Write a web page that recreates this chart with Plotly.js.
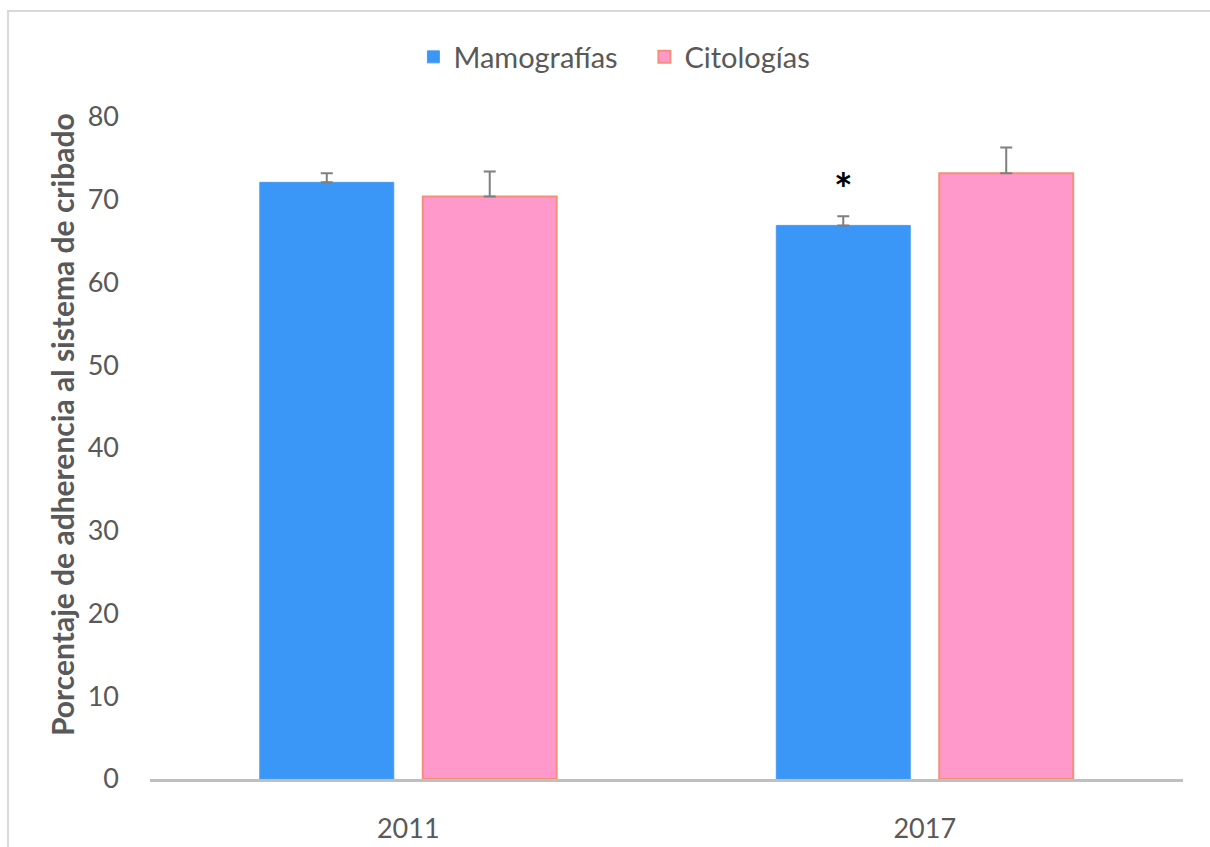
<!DOCTYPE html>
<html>
<head>
<meta charset="utf-8">
<script src="https://cdn.plot.ly/plotly-3.0.1.min.js"></script>
<style>
html,body{margin:0;padding:0;background:#fff;}
#chart{width:1210px;height:847px;}
</style>
</head>
<body>
<div id="chart"></div>
<script>
const categories = ["2011", "2017"];
const mamografias = [72.1, 66.9];
const mamografiasErr = [1.1, 1.1];
const citologias = [70.4, 73.2];
const citologiasErr = [3.0, 3.1];
const seriesNames = ["Mamografías", "Citologías"];
const yTicks = [0, 10, 20, 30, 40, 50, 60, 70, 80];
const significance = [{category: "2017", series: 0, text: "*"}];

const fontFam = "Lato, 'Open Sans', sans-serif";

const traces = [
  {
    type: "bar", name: seriesNames[0], x: categories, y: mamografias,
    marker: {color: "#3A97F7", line: {color: "#4A9BEA", width: 1}},
    error_y: {type: "data", array: mamografiasErr, arrayminus: [0, 0], symmetric: false,
              color: "#7F7F7F", thickness: 2, width: 6}
  },
  {
    type: "bar", name: seriesNames[1], x: categories, y: citologias,
    marker: {color: "#FF99CC", line: {color: "#F4907A", width: 2}},
    error_y: {type: "data", array: citologiasErr, arrayminus: [0, 0], symmetric: false,
              color: "#7F7F7F", thickness: 2, width: 6}
  }
];

const annotations = significance.map(s => {
  const i = categories.indexOf(s.category);
  const vals = s.series === 0 ? mamografias : citologias;
  const errs = s.series === 0 ? mamografiasErr : citologiasErr;
  return {
    x: i, xref: "x", y: vals[i] + errs[i], yref: "y", yanchor: "bottom", yshift: 0,
    text: "<b>" + s.text + "</b>", showarrow: false,
    xshift: -81, font: {family: fontFam, size: 44, color: "#000"}
  };
});
annotations.push({
  text: "<b>Porcentaje de adherencia al sistema de cribado</b>", textangle: -90,
  xref: "paper", yref: "paper", x: (62 - 150) / 1033, y: (779 - 425) / 662,
  xanchor: "center", yanchor: "middle", showarrow: false,
  font: {family: fontFam, size: 30, color: "#595959"}
});

const layout = {
  width: 1210, height: 847,
  margin: {l: 150, r: 27, t: 117, b: 68},
  paper_bgcolor: "#fff", plot_bgcolor: "#fff",
  barmode: "group", bargap: 0.369, bargroupgap: 0.178,
  showlegend: true,
  legend: {orientation: "h", x: 0.4786, xref: "paper", xanchor: "center", y: 1.0906, yanchor: "middle",
           bgcolor: "rgba(0,0,0,0)", entrywidth: 186, entrywidthmode: "pixels",
           font: {family: fontFam, size: 29, color: "#595959"}, itemwidth: 30, traceorder: "normal"},
  xaxis: {
    type: "category", range: [-0.5, 1.5], autorange: false,
    showgrid: false, showline: true, linecolor: "#BFBFBF", linewidth: 3,
    ticks: "", ticklabelstandoff: 24, zeroline: false,
    tickfont: {family: fontFam, size: 27, color: "#595959"}
  },
  yaxis: {
    range: [0, 80], autorange: false, tickvals: yTicks, ticktext: yTicks.map(String), showgrid: false,
    showline: false, zeroline: false, ticks: "", ticklabelstandoff: 30,
    tickfont: {family: fontFam, size: 27, color: "#595959"}
  },
  annotations: annotations,
  shapes: [{type: "rect", xref: "paper", yref: "paper",
            x0: -142/1033, x1: 1.1, y0: -0.2, y1: 1 + 106/662,
            line: {color: "#D9D9D9", width: 2}, fillcolor: "rgba(0,0,0,0)", layer: "below"}]
};

Plotly.newPlot("chart", traces, layout, {displayModeBar: false, staticPlot: true});
</script>
</body>
</html>
